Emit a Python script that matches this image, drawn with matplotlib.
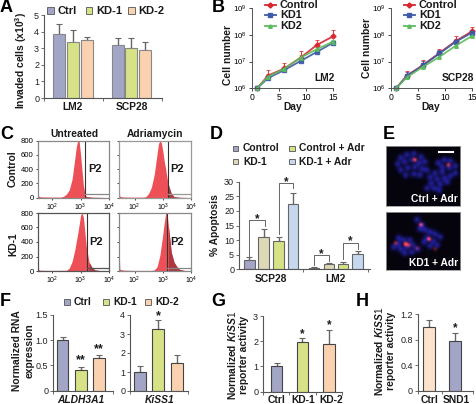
import numpy as np
import matplotlib
matplotlib.use("Agg")
import matplotlib.pyplot as plt
from matplotlib.patches import Rectangle

W, H = 477, 404
plt.rcParams['font.family'] = ['Liberation Sans', 'DejaVu Sans']
plt.rcParams['text.color'] = '#1a1a1a'
plt.rcParams['mathtext.fontset'] = 'custom'
plt.rcParams['mathtext.rm'] = 'Liberation Sans'
plt.rcParams['mathtext.bf'] = 'Liberation Sans:bold'
plt.rcParams['mathtext.it'] = 'Liberation Sans:italic:bold'

# ---------- data ----------
C_CTRL, C_KD1, C_ORANGE, C_BLUEG, C_TAN, C_LBLUE = '#a3a5c6', '#d6e285', '#fbd2b0', '#a3a5c6', '#dcd8b8', '#c5d8ef'
a_ctrl = [3.85, 3.22]; a_ctrl_e = [0.65, 0.42]
a_kd1 = [3.4, 3.05]; a_kd1_e = [0.72, 0.6]
a_kd2 = [3.48, 2.93]; a_kd2_e = [0.22, 0.43]

days = [1, 3, 6, 9, 12, 15]
lm2_ctrl = [1e6, 3e6, 5.5e6, 1.4e7, 4.2e7, 8.8e7]
lm2_ctrl_e = [0, 1.8e6, 3.3e6, 1.1e7, 2.4e7, 6e7]
lm2_kd1 = [1e6, 2.4e6, 4.8e6, 1.05e7, 2.3e7, 5.1e7]
lm2_kd1_e = [0, 0.5e6, 0.8e6, 2e6, 4e6, 8e6]
lm2_kd2 = [1e6, 2.7e6, 5.4e6, 1.4e7, 2.9e7, 5.6e7]
lm2_kd2_e = [0, 0.6e6, 1e6, 3e6, 5e6, 9e6]
scp_ctrl = [1e6, 3e6, 7.5e6, 2.1e7, 5.8e7, 1.35e8]
scp_ctrl_e = [0, 1.3e6, 3.5e6, 8e6, 3e7, 6e7]
scp_kd1 = [1e6, 2.9e6, 7.2e6, 2.0e7, 5.5e7, 1.2e8]
scp_kd1_e = [0, 1e6, 3e6, 7e6, 1.5e7, 3e7]
scp_kd2 = [1e6, 2.6e6, 6.4e6, 1.5e7, 3.9e7, 9e7]
scp_kd2_e = [0, 0.4e6, 1e6, 2e6, 5e6, 1e7]

ut_x = [1.5, 1.53, 1.6, 2.0, 2.3, 2.4, 2.5, 2.6, 2.7, 2.8, 2.85, 2.9, 2.95, 3.0, 3.05, 3.1, 3.15, 3.2, 3.4, 4.0]
ut_y = [60, 20, 12, 8, 8, 20, 50, 110, 260, 560, 720, 800, 790, 600, 380, 170, 60, 15, 6, 2]
ad_x = [1.45, 1.48, 1.6, 2.0, 2.3, 2.4, 2.5, 2.6, 2.7, 2.8, 2.85, 2.9, 2.95, 3.0, 3.05, 3.1, 3.15, 3.2, 3.3, 3.4, 3.6, 4.0]
ad_y = [120, 20, 10, 8, 8, 15, 60, 150, 330, 620, 760, 800, 770, 660, 520, 410, 280, 180, 60, 15, 5, 2]
k1_x = [1.5, 1.53, 1.6, 2.0, 2.5, 2.6, 2.7, 2.8, 2.9, 2.95, 3.0, 3.05, 3.1, 3.15, 3.2, 3.3, 3.4, 3.5, 3.7, 4.0]
k1_y = [80, 15, 10, 8, 10, 40, 130, 300, 520, 640, 770, 800, 740, 540, 340, 120, 50, 15, 5, 2]
k2_x = [1.45, 1.48, 1.6, 2.0, 2.6, 2.7, 2.8, 2.9, 3.0, 3.05, 3.1, 3.15, 3.2, 3.3, 3.4, 3.5, 3.6, 3.8, 4.0]
k2_y = [320, 25, 12, 8, 8, 15, 60, 220, 500, 660, 790, 800, 620, 260, 120, 60, 20, 5, 2]

d_ctrl = [3.2, 0.5]; d_ctrl_e = [1.0, 0.2]
d_kd1 = [11.0, 1.8]; d_kd1_e = [2.8, 0.3]
d_adr = [9.7, 1.8]; d_adr_e = [1.3, 0.6]
d_kda = [22.3, 5.1]; d_kda_e = [3.9, 1.1]

f1 = [1.01, 0.42, 0.64]; f1_e = [0.05, 0.05, 0.07]
f2 = [1.0, 3.25, 1.45]; f2_e = [0.3, 0.47, 0.45]
g = [1.0, 1.95, 1.88]; g_e = [0.12, 0.17, 0.55]
h = [1.0, 0.78]; h_e = [0.1, 0.12]

# spots in the micrograph panels: x, y, brightness in panel pixels
e1_blue = [(14,12),(20,9),(27,8),(34,11),(11,18),(18,16),(25,14),(32,17),(38,16),(14,24),(21,22),(28,21),(35,23),(19,29),(27,28),(33,29),(40,24),
           (43,31),(48,27),(55,26),(44,37),(50,33),(57,32),(63,30),(47,42),(53,38),(60,36),
           (51,17),(57,14),(63,15),(68,20),(55,21),(62,22),(68,27),(40,42),(52,44)]
e1_red = [(28,14,1.0),(61,19,0.8)]
e2_blue = [(30,8),(35,13),(38,18),(33,17),(43,20),(48,22),(53,25),(40,26),(46,29),(37,30),(43,34),(50,33),
           (23,28),(17,28),(12,32),(7,35),(14,37),(20,35),(26,33),(18,41),(25,40),(31,37),(12,26)]
e2_red = [(34,13,0.9),(19,32,1.5),(42,27,1.1),(9,31,0.6),(22,33,0.7),(30,36,0.4),(48,37,0.4)]

# ---------- helpers ----------
fig = plt.figure(figsize=(W/100, H/100), dpi=100)
FS = 7.4

def axpx(l, t, r, b):
    return fig.add_axes([l/W, 1-b/H, (r-l)/W, (b-t)/H])

def txt(x, y, s, size=FS, weight='bold', ha='center', va='center', **kw):
    return fig.text(x/W, 1-y/H, s, fontsize=size, fontweight=weight, ha=ha, va=va, **kw)

def panel(x, y, s):
    txt(x, y, s, size=13, ha='left', color='black')

def swatch(x, y, c, w=6.5, h=6.5):
    fig.add_artist(Rectangle((x/W, 1-(y+h/2)/H), w/W, h/H, fc=c, ec='#666666', lw=0.7, transform=fig.transFigure))

def barax(l, t, r, b, ymax, yticks, ylabels, xsep=None):
    ax = axpx(l, t, r, b)
    ax.set_xlim(l, r); ax.set_ylim(0, ymax)
    for s in ['top', 'right']:
        ax.spines[s].set_visible(False)
    for s in ['left', 'bottom']:
        ax.spines[s].set_color('#555555'); ax.spines[s].set_linewidth(0.8)
    ax.set_yticks(yticks); ax.set_yticklabels(ylabels, fontsize=FS-0.9, color='#222222')
    ax.tick_params(axis='y', length=2.5, width=0.6, pad=1, color='#555555')
    ax.set_xticks(xsep if xsep is not None else [])
    ax.set_xticklabels([])
    ax.tick_params(axis='x', length=2.5, width=0.6, color='#555555')
    ax.patch.set_alpha(0)
    return ax

def bars(ax, xs, v, e, colors, w=12, ec='#444444'):
    ax.bar(xs, v, width=w, color=colors, edgecolor=ec, linewidth=0.8, zorder=2)
    ax.errorbar(xs, v, yerr=[[0]*len(e), e], fmt='none', ecolor='#666666', elinewidth=1, capsize=2.2, capthick=0.8, zorder=1)

# ---------- A ----------
panel(0, 8, 'A')
swatch(47.5, 10.5, C_CTRL); txt(57.5, 10.5, 'Ctrl', ha='left', size=FS+0.6)
swatch(86, 10.5, C_KD1); txt(96, 10.5, 'KD-1', ha='left', size=FS+0.6)
swatch(128, 10.5, C_ORANGE); txt(138, 10.5, 'KD-2', ha='left', size=FS+0.6)
axA = barax(44, 15.3, 162, 98, 5, range(6), [str(i) for i in range(6)], xsep=[44, 102.7, 162])
for v, e, c, xs in [(a_ctrl, a_ctrl_e, C_CTRL, [59.3, 117.7]), (a_kd1, a_kd1_e, C_KD1, [73, 131.3]), (a_kd2, a_kd2_e, C_ORANGE, [86.7, 145.3])]:
    bars(axA, xs, v, e, c, ec='#888888')
txt(72.5, 106.5, 'LM2'); txt(132, 106.5, 'SCP28')
txt(21, 60, 'Invaded cells (x10$\\mathbf{^3}$)', rotation=90, size=FS)

# ---------- B ----------
panel(212, 8, 'B')
LC = ['#d9262e', '#3d5aa8', '#5dbb5d']
def growth(l, r, series, label, lx):
    ax = axpx(l, 8, r, 88.3)
    ax.set_yscale('log'); ax.set_xlim(0, 15); ax.set_ylim(1e6, 1e9)
    for (v, e), c, m in zip(series, LC, ['D', 's', '^']):
        ax.errorbar(days, v, yerr=[[0]*len(e), e], color=c, lw=1.3, marker=m, ms=2.6, elinewidth=0.8,
                    ecolor=c, capsize=1.5, capthick=0.6, alpha=0.9, clip_on=False)
    for s in ['top', 'right']:
        ax.spines[s].set_visible(False)
    for s in ['left', 'bottom']:
        ax.spines[s].set_color('#555555'); ax.spines[s].set_linewidth(0.7)
    ax.set_xticks([0, 5, 10, 15]); ax.set_xticklabels(['0', '5', '10', '15'], fontsize=FS-1.2)
    ax.set_yticks([1e6, 1e7, 1e8, 1e9]); ax.set_yticklabels(['10$^{6}$', '10$^{7}$', '10$^{8}$', '10$^{9}$'], fontsize=FS-1.7)
    ax.minorticks_off()
    ax.tick_params(length=2, width=0.5, pad=1.5)
    ax.text(lx, 2.4e6, label, fontsize=FS, fontweight='bold', ha='center', va='center')
    ax.patch.set_alpha(0)
    return ax
growth(251.7, 333.3, [(lm2_ctrl, lm2_ctrl_e), (lm2_kd1, lm2_kd1_e), (lm2_kd2, lm2_kd2_e)], 'LM2', 13.3)
growth(390.7, 472, [(scp_ctrl, scp_ctrl_e), (scp_kd1, scp_kd1_e), (scp_kd2, scp_kd2_e)], 'SCP28', 12.4)
txt(228, 55, 'Cell number', rotation=90)
txt(367.5, 48, 'Cell number', rotation=90)
txt(293, 106.5, 'Day'); txt(431, 106.5, 'Day')
for x0 in [265, 404]:
    for yy, c, s, m in zip([4.5, 15, 26], LC, ['Control', 'KD1', 'KD2'], ['D', 's', '^']):
        fig.add_artist(plt.Line2D([x0/W, (x0+11)/W], [1-yy/H]*2, color=c, lw=1.3, transform=fig.transFigure))
        fig.add_artist(plt.Line2D([(x0+5.5)/W], [1-yy/H], color=c, marker=m, ms=2.6, transform=fig.transFigure))
        txt(x0+15, yy, s, ha='left', size=FS+0.4)

# ---------- C ----------
panel(0, 134, 'C')
txt(74, 134, 'Untreated'); txt(155, 134, 'Adriamycin')
txt(13, 169, 'Control', rotation=90); txt(13, 244, 'KD-1', rotation=90)
def flow(l, t, r, b, x, y, gate, xmin, yl, spine):
    ax = axpx(l, t, r, b)
    ax.set_xlim(xmin, 4); ax.set_ylim(0, 800)
    xa, ya = np.array(x), np.array(y)
    ax.fill_between(xa, ya, color='#ee5058', lw=0)
    ax.fill_between(xa, ya, where=xa >= gate, color='#a83a40', lw=0)
    ax.axvline(gate, color='#333333', lw=0.8)
    ax.plot([gate, 4], [45, 45], color=spine, lw=0.9)
    for s in ax.spines.values():
        s.set_color(spine); s.set_linewidth(0.9)
    ax.set_xticks([2, 3, 4]); ax.set_xticklabels(['10$^{2}$', '10$^{3}$', '10$^{4}$'], fontsize=FS-2.4)
    ax.set_yticks([0, 200, 400, 600, 800])
    ax.set_yticklabels(['0', '200', '400', '600', '800'] if yl else [], fontsize=FS-1.8)
    ax.tick_params(length=1.5, width=0.5, pad=1.5)
    ax.text(gate + (4-gate)*0.42, 400, 'P2', fontsize=FS+0.6, fontweight='bold', ha='center', va='center')
flow(38, 140.7, 109, 197.7, ut_x, ut_y, 3.17, 1.5, True, '#888888')
flow(119, 140.7, 191, 197.7, ad_x, ad_y, 3.17, 1.45, False, '#999999')
flow(38, 213, 109, 271, k1_x, k1_y, 3.21, 1.5, True, '#555555')
flow(119, 213, 191, 271, k2_x, k2_y, 3.16, 1.45, False, '#888888')

# ---------- D ----------
panel(210, 134, 'D')
for x, y, c, s in [(233, 148.3, C_BLUEG, 'Control'), (289.3, 148.3, C_KD1, 'Control + Adr'), (233, 161.7, C_TAN, 'KD-1'), (289.3, 161.7, C_LBLUE, 'KD-1 + Adr')]:
    swatch(x, y, c, 5.5, 5.5); txt(x+10, y, s, ha='left')
axD = barax(239, 181.7, 370, 269.3, 30, range(0, 31, 5), [str(i) for i in range(0, 31, 5)], xsep=[303, 368])
for v, e, c, xs in [(d_ctrl, d_ctrl_e, C_BLUEG, [249.3, 314]), (d_kd1, d_kd1_e, C_TAN, [263.7, 329]), (d_adr, d_adr_e, C_KD1, [278.7, 343]), (d_kda, d_kda_e, C_LBLUE, [293, 357.7])]:
    bars(axD, xs, v, e, c, w=10.5, ec='#666666')
def bracket(ax, x0, x1, y0, y1, top):
    ax.plot([x0, x0, x1, x1], [y0, top, top, y1], color='#666666', lw=0.7, clip_on=False)
    ax.text((x0+x1)/2, top+0.4, '*', fontsize=FS+1, fontweight='bold', ha='center', va='center')
bracket(axD, 249.3, 264.7, 4.3, 15, 16.9)
bracket(axD, 278.7, 293.3, 12, 27.8, 29.4)
bracket(axD, 314, 329, 1.5, 3, 4.9)
bracket(axD, 343, 357.7, 3.5, 7, 9.1)
txt(215, 225, '% Apoptosis', rotation=90)
txt(271, 279, 'SCP28'); txt(336, 279, 'LM2')

# ---------- E ----------
panel(383, 134, 'E')
def micro(l, t, r, b, blue, red, label, bar=False):
    ax = axpx(l, t, r, b)
    w, h_ = int(r-l), int(b-t)
    yy, xx = np.mgrid[0:h_, 0:w]
    img = np.zeros((h_, w, 3)) + np.array([0.02, 0.012, 0.05])
    B = sum(np.exp(-((xx-x)**2+(yy-y)**2)/(2*2.2**2)) for x, y in blue)
    R = sum(v*np.exp(-((xx-x)**2+(yy-y)**2)/(2*1.3**2)) for x, y, v in red)
    img[..., 2] += 0.5*np.clip(B, 0, 1.1)
    img[..., 1] += 0.10*np.clip(B, 0, 1.1)
    img[..., 0] += 0.10*np.clip(B, 0, 1.1) + 0.95*np.clip(R, 0, 1)
    img[..., 1] += 0.2*np.clip(R, 0, 1)
    ax.imshow(np.clip(img, 0, 1), extent=(0, r-l, b-t, 0), aspect='auto', interpolation='bilinear')
    ax.set_xticks([]); ax.set_yticks([])
    for s in ax.spines.values():
        s.set_color('#999999'); s.set_linewidth(0.6)
    ax.text((r-l)-2, (b-t)-7, label, color='white', fontsize=FS, fontweight='bold', ha='right', va='center')
    if bar:
        ax.plot([53, 67], [6, 6], color='white', lw=1.5)
micro(385.7, 145.7, 460.3, 205.7, e1_blue, e1_red, 'Ctrl + Adr', True)
micro(385.7, 211.7, 460.3, 270, e2_blue, e2_red, 'KD1 + Adr')

# ---------- F ----------
panel(0, 302, 'F')
for x, c, s in [(64, C_CTRL, 'Ctrl'), (103, C_KD1, 'KD-1'), (145, C_ORANGE, 'KD-2')]:
    swatch(x, 302, c, 6, 6); txt(x+10, 302, s, ha='left')
axF1 = barax(53, 315, 113, 390.7, 1.5, [0, 0.5, 1.0, 1.5], ['0', '0.5', '1.0', '1.5'], xsep=[53, 113])
bars(axF1, [62.7, 81, 99], f1, f1_e, [C_CTRL, C_KD1, C_ORANGE], w=11.5)
axF2 = barax(130, 315, 188, 391, 4, range(5), [str(i) for i in range(5)], xsep=[130, 188])
bars(axF2, [140, 158, 177], f2, f2_e, [C_CTRL, C_KD1, C_ORANGE], w=11.5)
for a, x, y, s in [(axF1, 81, 0.6, '**'), (axF1, 99, 0.82, '**'), (axF2, 158, 3.95, '*')]:
    a.text(x, y, s, fontsize=FS+1.5, fontweight='bold', ha='center', va='center')
txt(17.5, 351, 'Normalized RNA', rotation=90); txt(30, 351, 'expression', rotation=90)
txt(81, 400, 'ALDH3A1', style='italic'); txt(160, 400, 'KiSS1', style='italic')

# ---------- G ----------
panel(211, 302, 'G')
axG = barax(263, 316, 342, 391.7, 3, range(4), [str(i) for i in range(4)], xsep=[263, 289.5, 316, 342])
bars(axG, [276.7, 302.3, 329], g, g_e, [C_CTRL, C_KD1, C_ORANGE], w=11.5)
for x, y, s in [(302.3, 2.28, '*'), (329, 2.65, '*')]:
    axG.text(x, y, s, fontsize=FS+1, fontweight='bold', ha='center', va='center')
txt(232, 355, 'Normalized $\\mathit{KiSS1}$', rotation=90)
txt(244, 355, 'reporter activity', rotation=90)
txt(276.5, 400, 'Ctrl'); txt(303, 400, 'KD-1'); txt(331, 400, 'KD-2')

# ---------- H ----------
panel(356, 302, 'H')
axH = barax(417.7, 314, 473, 391, 1.2, [0, 0.4, 0.8, 1.2], ['0', '0.4', '0.8', '1.2'], xsep=[417.7, 442, 473])
bars(axH, [429, 455], h, h_e, ['#fbe3cd', C_CTRL], w=12)
axH.text(455, 0.98, '*', fontsize=FS+1, fontweight='bold', ha='center', va='center')
txt(379, 351, 'Normalized $\\mathit{KiSS1}$', rotation=90)
txt(391, 351, 'reporter activity', rotation=90)
txt(430, 400, 'Ctrl'); txt(456, 400, 'SND1')

fig.savefig('out.png', dpi=100)
